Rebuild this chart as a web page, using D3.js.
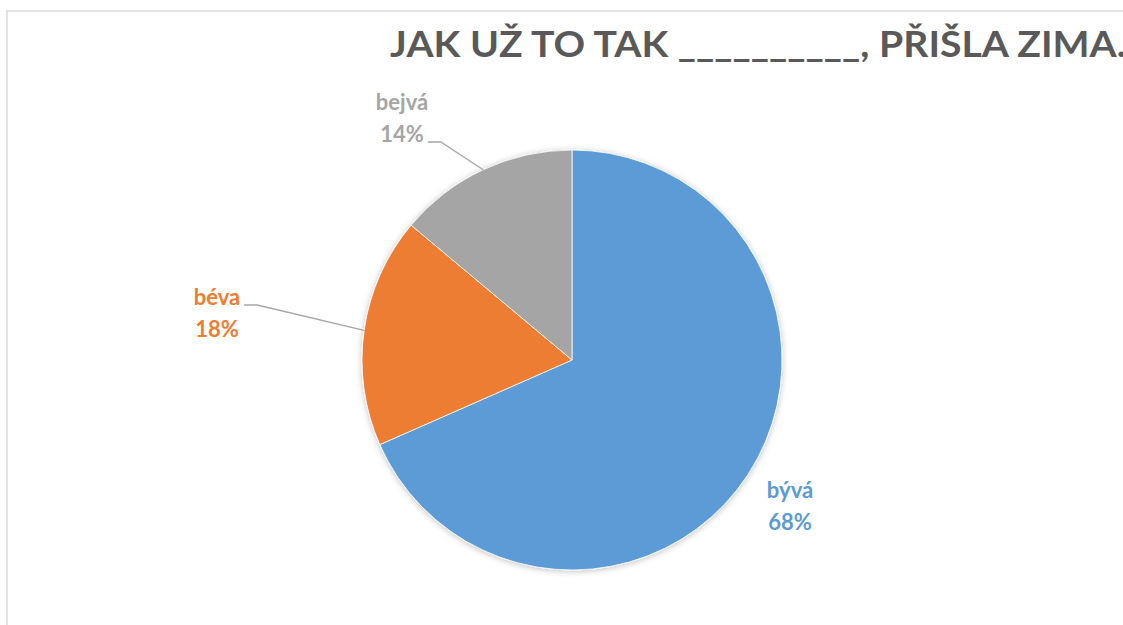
<!DOCTYPE html>
<html lang="cs">
<head>
<meta charset="utf-8">
<title>Jak už to tak</title>
<script src="https://cdn.jsdelivr.net/npm/d3@7"></script>
<style>
  body { margin: 0; background: #fff; }
  svg { display: block; font-family: Lato, "Open Sans", sans-serif; font-weight: bold; }
</style>
</head>
<body>
<div id="chart"></div>
<script>
// data
var categories = ["bývá", "béva", "bejvá"];
var values = [68.4, 17.7, 13.9];
var colors = ["#5b9bd5", "#ed7d31", "#a5a5a5"];
var title = "JAK UŽ TO TAK __________, PŘIŠLA ZIMA.";

var w = 1123, h = 625;
var cx = 572, cy = 360, r = 210;

var svg = d3.select("#chart").append("svg")
  .attr("width", w).attr("height", h);

// shadow for pie
var defs = svg.append("defs");
var f = defs.append("filter").attr("id", "shadow")
  .attr("x", "-10%").attr("y", "-10%").attr("width", "120%").attr("height", "120%");
f.append("feDropShadow").attr("dx", 0).attr("dy", 1).attr("stdDeviation", 3)
  .attr("flood-color", "#000").attr("flood-opacity", 0.25);

// chart frame
svg.append("rect")
  .attr("x", 7).attr("y", 11).attr("width", w + 20).attr("height", h + 20)
  .attr("fill", "none").attr("stroke", "#d9d9d9").attr("stroke-width", 1.5);

// title
svg.append("text")
  .attr("x", 390).attr("y", 57)
  .attr("font-size", 36)
  .attr("fill", "#595959")
  .attr("textLength", 736)
  .attr("lengthAdjust", "spacingAndGlyphs")
  .text(title);

var pie = d3.pie().sort(null).value(function(d) { return d; });
var arcs = pie(values);
var arc = d3.arc().innerRadius(0).outerRadius(r);

var g = svg.append("g").attr("transform", "translate(" + cx + "," + cy + ")");
g.append("g").attr("filter", "url(#shadow)")
  .selectAll("path")
  .data(arcs)
  .enter()
  .append("path")
  .attr("d", arc)
  .attr("fill", function(d, i) { return colors[i]; })
  .attr("stroke", "#fff")
  .attr("stroke-width", 0.8);

// label placement (layout only): centre x, first baseline y
var labelPos = [[218, 138], [-355, -55], [-170, -250]];
// which text line the leader line starts from (-1 = no leader)
var leaderLine = [-1, 0, 1];

arcs.forEach(function(d, i) {
  var p = labelPos[i];
  var t = g.append("text")
    .attr("text-anchor", "middle")
    .attr("font-size", 22)
    .attr("fill", colors[i]);
  var spans = [
    t.append("tspan").attr("x", p[0]).attr("y", p[1]).text(categories[i]),
    t.append("tspan").attr("x", p[0]).attr("y", p[1] + 32).text(Math.round(values[i]) + "%")
  ];

  if (leaderLine[i] >= 0) {
    var s = spans[leaderLine[i]];
    var sx = p[0] + s.node().getComputedTextLength() / 2 + 4;
    var sy = +s.attr("y");
    var mid = (d.startAngle + d.endAngle) / 2;
    var ex = Math.sin(mid) * r, ey = -Math.cos(mid) * r;
    g.append("polyline")
      .attr("points", [[sx, sy], [sx + 13, sy], [ex, ey]].map(function(q) { return q.join(","); }).join(" "))
      .attr("fill", "none")
      .attr("stroke", "#a6a6a6")
      .attr("stroke-width", 1.3);
  }
});
</script>
</body>
</html>
